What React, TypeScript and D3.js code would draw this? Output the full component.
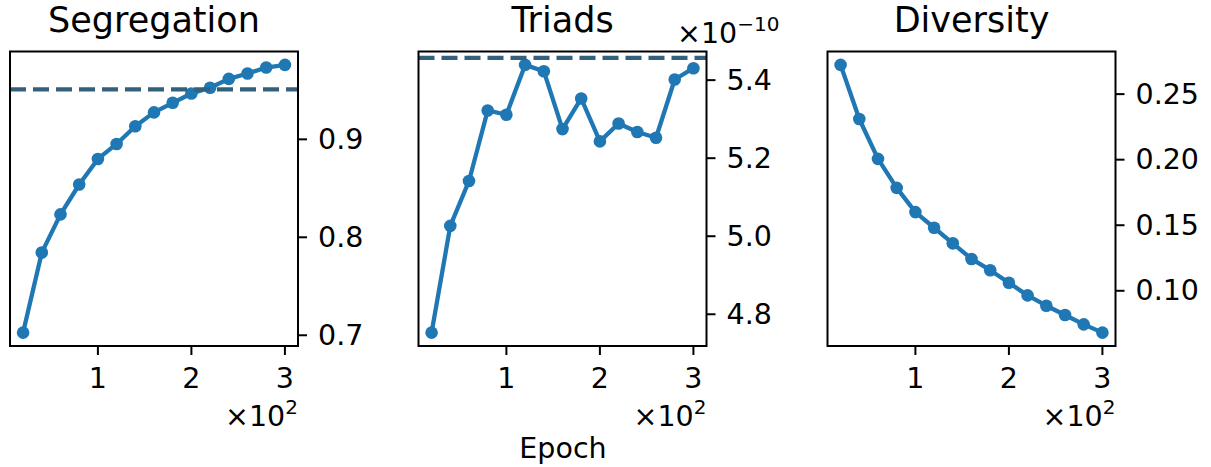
import React from "react";
import * as d3 from "d3";

const epochs = [20, 40, 60, 80, 100, 120, 140, 160, 180, 200, 220, 240, 260, 280, 300];
const segregation = [0.7027, 0.7844, 0.8234, 0.8539, 0.880, 0.8953, 0.9133, 0.9275, 0.9373, 0.9468, 0.9526, 0.9617, 0.9672, 0.9733, 0.976];
const segregationRef = 0.951;
const triads = [4.753e-10, 5.0265e-10, 5.1416e-10, 5.3223e-10, 5.3113e-10, 5.4391e-10, 5.4229e-10, 5.2746e-10, 5.353e-10, 5.243e-10, 5.289e-10, 5.267e-10, 5.2524e-10, 5.4016e-10, 5.4306e-10];
const triadsRef = 5.457e-10;
const diversity = [0.2723, 0.231, 0.2006, 0.1785, 0.160, 0.1481, 0.1362, 0.1243, 0.1157, 0.1061, 0.0965, 0.0886, 0.0815, 0.0744, 0.0681];

const xTicks = [100, 200, 300];
const xTickLabels = ["1", "2", "3"];
const segTicks = [0.7, 0.8, 0.9];
const segTickLabels = ["0.7", "0.8", "0.9"];
const triTicks = [4.8e-10, 5.0e-10, 5.2e-10, 5.4e-10];
const triTickLabels = ["4.8", "5.0", "5.2", "5.4"];
const divTicks = [0.10, 0.15, 0.20, 0.25];
const divTickLabels = ["0.10", "0.15", "0.20", "0.25"];
const titles = ["Segregation", "Triads", "Diversity"];
const xLabel = "Epoch";

const W = 1211, H = 467;
const FONT = "'DejaVu Sans', sans-serif";
const BLUE = "#1f77b4";
const DASH = "#33617c";
const TOP = 51.5, BOTTOM = 346;
const PW = 288;
const LEFTS = [10, 418.5, 827.5];
const TICK_FS = 28.5;
const TITLE_FS = 35;

function pad(ext: [number, number]): [number, number] {
  const m = (ext[1] - ext[0]) * 0.05;
  return [ext[0] - m, ext[1] + m];
}

type PanelProps = {
  left: number;
  title: string;
  values: number[];
  refLine?: number;
  yTicks: number[];
  yTickLabels: string[];
  topOffset?: boolean;
};

function Panel({ left, title, values, refLine, yTicks, yTickLabels, topOffset }: PanelProps) {
  const right = left + PW;
  const x = d3.scaleLinear().domain(pad(d3.extent(epochs) as [number, number])).range([left, right]);
  const y = d3.scaleLinear().domain(pad(d3.extent(values) as [number, number])).range([BOTTOM, TOP]);
  const line = d3.line<number>().x((_, i) => x(epochs[i])).y((d) => y(d));
  const cx = (left + right) / 2;
  return (
    <g>
      <text x={cx} y={32} textAnchor="middle" fontSize={TITLE_FS} fontFamily={FONT} fill="#000">{title}</text>
      <path d={line(values) || ""} fill="none" stroke={BLUE} strokeWidth={4.3} strokeLinejoin="round" />
      {values.map((v, i) => (
        <circle key={i} cx={x(epochs[i])} cy={y(v)} r={6.3} fill={BLUE} />
      ))}
      {refLine !== undefined && (
        <line x1={left} x2={right} y1={y(refLine)} y2={y(refLine)} stroke={DASH} strokeWidth={4.3} strokeDasharray="16 7" />
      )}
      <rect x={left} y={TOP} width={PW} height={BOTTOM - TOP} fill="none" stroke="#000" strokeWidth={2} />
      {xTicks.map((t, i) => (
        <g key={"x" + i}>
          <line x1={x(t)} x2={x(t)} y1={BOTTOM} y2={BOTTOM + 9} stroke="#000" strokeWidth={2} />
          <text x={x(t)} y={388} textAnchor="middle" fontSize={TICK_FS} fontFamily={FONT} fill="#000">{xTickLabels[i]}</text>
        </g>
      ))}
      {yTicks.map((t, i) => (
        <g key={"y" + i}>
          <line x1={right} x2={right + 9} y1={y(t)} y2={y(t)} stroke="#000" strokeWidth={2} />
          <text x={right + 20} y={y(t)} dominantBaseline="central" fontSize={TICK_FS} fontFamily={FONT} fill="#000">{yTickLabels[i]}</text>
        </g>
      ))}
      <text x={right} y={426} textAnchor="end" fontSize={TICK_FS} fontFamily={FONT} fill="#000">
        ×10<tspan fontSize={20} dy={-12}>2</tspan>
      </text>
      {topOffset && (
        <text x={677} y={43} fontSize={TICK_FS} fontFamily={FONT} fill="#000">
          ×10<tspan fontSize={20} dy={-12}>−10</tspan>
        </text>
      )}
    </g>
  );
}

export default function App() {
  return (
    <svg width={W} height={H} style={{ position: "absolute", left: 0, top: 0, background: "#fff" }}>
      <rect x={0} y={0} width={W} height={H} fill="#fff" />
      <Panel left={LEFTS[0]} title={titles[0]} values={segregation} refLine={segregationRef} yTicks={segTicks} yTickLabels={segTickLabels} />
      <Panel left={LEFTS[1]} title={titles[1]} values={triads} refLine={triadsRef} yTicks={triTicks} yTickLabels={triTickLabels} topOffset />
      <Panel left={LEFTS[2]} title={titles[2]} values={diversity} yTicks={divTicks} yTickLabels={divTickLabels} />
      <text x={563} y={458} textAnchor="middle" fontSize={TICK_FS} fontFamily={FONT} fill="#000">{xLabel}</text>
    </svg>
  );
}
